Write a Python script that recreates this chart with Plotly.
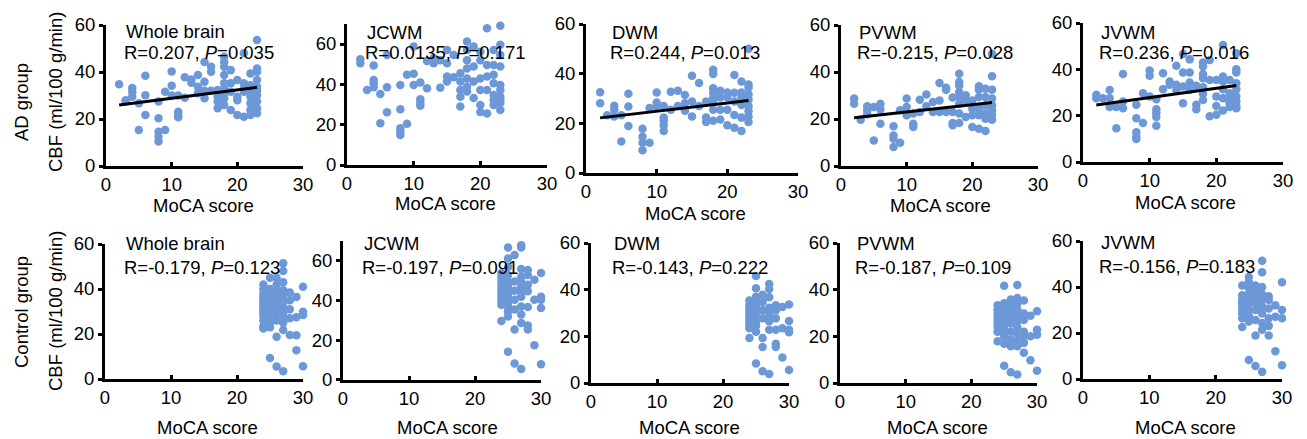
import plotly.graph_objects as go

# ---------------- DATA (MoCA score -> CBF values, ml/100 g/min) ----------------
REGIONS = ["Whole brain", "JCWM", "DWM", "PVWM", "JVWM"]

AD_WHOLE_BRAIN = {
    2: [34.8], 3: [28.0, 27.4], 4: [33.2, 31.4, 29.5], 5: [26.7, 15.3], 6: [38.4, 30.1, 21.7],
    8: [27.4, 20.3, 14.6, 12.5, 10.4], 9: [31.6, 15.3], 10: [40.2, 34.2, 30.0],
    11: [30.0, 23.1, 21.7, 20.7], 12: [37.8, 29.0], 13: [36.8, 35.4], 14: [38.7, 33.7, 31.0],
    15: [44.3, 35.9, 32.0, 28.8], 16: [42.2, 40.1, 32.0], 17: [32.3, 29.5, 27.4, 24.6],
    18: [46.5, 44.3, 42.2, 38.7, 35.2, 33.0, 30.9, 28.8, 26.0], 19: [40.8, 35.2, 31.6, 23.8],
    20: [36.6, 29.5, 28.0, 21.7], 21: [48.0, 35.2, 33.0, 31.6, 21.0],
    22: [39.4, 34.4, 32.0, 29.5, 26.7, 23.8, 21.7],
    23: [53.6, 41.5, 40.1, 36.6, 33.7, 32.0, 30.1, 27.4, 24.6, 22.4],
}
AD_JCWM = {
    2: [52.4, 50.5], 3: [37.2], 4: [49.3, 42.2, 40.5, 38.5], 5: [35.2, 20.7], 6: [54.6, 38.5, 26.2],
    8: [39.7, 27.6, 18.2, 16.5, 14.9], 9: [44.7, 20.4], 10: [58.8, 45.2, 39.7],
    11: [40.9, 32.6, 30.9, 29.4], 12: [51.6, 38.1], 13: [53.0, 51.5, 50.5], 14: [52.0, 38.3],
    15: [57.0, 50.5, 43.9, 41.4], 16: [54.6, 43.5], 17: [45.5, 41.4, 37.2, 33.9, 29.0],
    18: [61.2, 57.0, 52.0, 47.9, 42.9, 38.8, 36.4], 19: [58.8, 48.8, 41.4, 33.2],
    20: [56.2, 52.0, 42.9, 37.2, 29.7, 26.3], 21: [67.8, 49.6, 43.9, 37.2, 25.5],
    22: [57.0, 49.6, 44.7, 40.5, 34.7, 32.3, 29.7],
    23: [69.0, 59.6, 54.6, 48.8, 39.7, 37.2, 33.9, 32.3, 30.7, 27.3],
}
AD_DWM = {
    2: [32.5, 28.1], 3: [23.3], 4: [27.1, 25.5, 22.8], 5: [23.3, 12.7], 6: [31.9, 26.8, 18.9],
    8: [17.8, 14.6, 12.2, 9.2], 9: [26.2, 12.2], 10: [32.4, 28.4, 26.8],
    11: [27.0, 22.3, 21.0, 19.2, 16.9], 12: [32.7, 25.5], 13: [33.1, 27.0], 14: [31.4, 28.1, 25.1],
    15: [39.2, 28.8, 22.8], 16: [36.2, 27.0], 17: [28.8, 22.3, 20.5],
    18: [41.6, 39.9, 34.1, 32.4, 30.4, 28.4, 25.5, 21.0], 19: [33.1, 30.4, 25.5, 21.5],
    20: [32.4, 30.5, 25.5, 19.2], 21: [39.5, 32.3, 28.8, 23.4, 18.2],
    22: [36.8, 32.4, 30.4, 27.4, 22.3, 16.9],
    23: [50.0, 35.6, 34.3, 31.6, 29.6, 26.9, 24.9, 22.8, 20.5],
}
AD_PVWM = {
    2: [28.7, 26.5], 3: [19.7], 4: [25.4, 23.7, 22.0], 5: [25.1, 10.9], 6: [26.5, 24.0, 18.0],
    8: [16.9, 13.0, 11.6, 8.1], 9: [23.7, 9.9], 10: [28.7, 25.1, 21.6],
    11: [22.3, 18.0, 16.6], 12: [28.2, 23.0], 13: [30.4, 25.4], 14: [27.2, 23.0],
    15: [35.3, 27.9, 23.0], 16: [33.3, 32.5, 23.0], 17: [29.1, 23.0, 18.3, 17.3],
    18: [39.3, 35.7, 34.3, 31.5, 29.4, 26.5, 22.3, 18.3], 19: [30.1, 27.9, 20.9],
    20: [27.9, 24.4, 21.6, 16.6], 21: [33.9, 32.5, 29.4, 24.4, 21.6, 15.9],
    22: [32.9, 29.4, 25.8, 22.3, 20.1, 14.9],
    23: [47.8, 38.2, 32.5, 28.7, 25.8, 23.7, 21.6, 19.7],
}
AD_JVWM = {
    2: [29.0, 27.5], 3: [27.5], 4: [31.1, 27.5, 23.7], 5: [23.7, 14.6], 6: [38.0, 26.1, 23.2],
    8: [24.7, 18.9, 12.8, 11.0, 9.9], 9: [29.7, 16.8], 10: [39.5, 37.2, 28.3],
    11: [27.1, 22.8, 21.1, 19.4, 15.6], 12: [38.3, 31.4], 13: [34.7, 33.3], 14: [41.5, 33.3, 31.1],
    15: [46.6, 38.6, 32.6, 25.4], 16: [44.3, 38.6, 34.3, 31.1], 17: [32.9, 24.7, 22.8],
    18: [42.9, 41.2, 38.0, 36.2, 32.3, 29.4, 26.8], 19: [44.0, 35.4, 19.7],
    20: [35.4, 28.3, 24.2, 20.4], 21: [50.5, 36.9, 34.7, 31.4, 27.5, 22.2],
    22: [35.4, 29.7, 26.8, 25.4, 23.7],
    23: [46.9, 40.0, 38.6, 34.0, 31.4, 28.3, 26.1, 24.2, 23.2],
}

CTRL_WHOLE_BRAIN = {
    24: [42.0, 40.0, 38.0, 36.5, 35.0, 34.0, 33.0, 32.0, 31.0, 30.0, 29.0, 28.0, 26.0, 23.5, 22.5],
    25: [45.0, 40.0, 37.0, 35.0, 33.0, 31.0, 28.0, 25.0, 23.0, 9.3],
    26: [45.0, 42.0, 39.5, 37.5, 35.5, 33.5, 31.5, 29.0, 26.0, 18.8, 5.6],
    27: [51.5, 48.0, 43.0, 39.5, 37.0, 34.5, 32.0, 29.5, 27.0, 25.0, 21.8, 3.4],
    28: [38.5, 35.0, 31.0, 27.0, 19.6],
    29: [36.5, 27.5, 19.4, 12.8],
    30: [41.0, 29.9, 28.4, 5.7],
}
CTRL_JCWM = {
    24: [54.0, 52.0, 50.0, 48.0, 46.0, 44.0, 42.0, 40.0, 38.0, 29.7],
    25: [66.8, 61.3, 57.0, 53.0, 49.7, 47.0, 45.0, 43.0, 41.0, 39.0, 37.0, 34.5, 32.0, 14.3],
    26: [63.0, 49.7, 45.0, 40.5, 35.5, 25.5, 8.3],
    27: [68.0, 66.8, 56.0, 52.0, 49.5, 47.0, 44.5, 42.0, 37.0, 33.0, 28.8, 5.5],
    28: [55.5, 53.0, 48.0, 44.7, 36.8, 27.5, 25.5],
    29: [50.5, 40.5, 17.5],
    30: [54.0, 42.0, 40.5, 36.3, 8.0],
}
CTRL_DWM = {
    24: [35.4, 33.5, 32.0, 30.5, 29.0, 27.5, 26.0, 25.0, 23.5, 19.3],
    25: [45.9, 40.6, 37.0, 35.0, 33.0, 30.5, 28.5, 26.5, 24.5, 22.0, 8.4],
    26: [37.8, 34.7, 31.2, 27.7, 19.3, 15.4, 5.0],
    27: [42.4, 40.3, 36.8, 32.2, 30.5, 28.8, 26.5, 22.8, 3.9],
    28: [33.3, 31.2, 27.7, 22.8, 16.8, 15.4],
    29: [32.6, 23.5, 10.9],
    30: [33.6, 26.6, 22.8, 21.8, 5.6],
}
CTRL_PVWM = {
    24: [33.3, 31.5, 30.0, 28.5, 27.0, 25.5, 24.0, 22.0, 17.9],
    25: [41.7, 34.2, 32.5, 30.5, 28.5, 26.5, 24.5, 22.5, 20.0, 16.8, 7.4],
    26: [35.8, 33.3, 30.5, 28.0, 25.5, 22.0, 18.6, 15.8, 4.6],
    27: [42.0, 36.4, 34.0, 31.5, 29.0, 26.5, 24.0, 21.0, 17.9, 15.8, 3.6],
    28: [35.4, 29.8, 27.0, 22.0, 20.0, 17.2, 13.0],
    29: [28.8, 20.0, 9.8],
    30: [30.8, 22.8, 20.7, 5.3],
}
CTRL_JVWM = {
    24: [40.7, 36.4, 34.5, 33.0, 31.5, 30.0, 28.5, 26.4, 22.6],
    25: [44.3, 42.2, 39.5, 37.0, 35.0, 32.5, 30.0, 27.5, 25.0, 8.3],
    26: [40.7, 38.6, 35.5, 33.0, 30.0, 25.7, 18.9, 5.7],
    27: [51.4, 46.4, 40.0, 37.0, 34.5, 31.5, 28.5, 24.3, 21.4, 3.1],
    28: [36.0, 34.3, 30.7, 26.4, 23.1, 18.9],
    29: [32.1, 27.1, 12.1],
    30: [42.1, 30.0, 26.4, 6.0],
}

AD_STATS = ["R=0.207, <i>P</i>=0.035", "R=0.0135, <i>P</i>=0.171", "R=0.244, <i>P</i>=0.013",
            "R=-0.215, <i>P</i>=0.028", "R=0.236, <i>P</i>=0.016"]
CTRL_STATS = ["R=-0.179, <i>P</i>=0.123", "R=-0.197, <i>P</i>=0.091", "R=-0.143, <i>P</i>=0.222",
              "R=-0.187, <i>P</i>=0.109", "R=-0.156, <i>P</i>=0.183"]

# regression lines (AD group only); None = not drawn
FIT_X = [2, 23]
AD_FIT_Y = [[26.0, 33.5], None, [22.2, 29.2], [20.5, 27.0], [24.6, 33.0]]

X_TICKS = [0, 10, 20, 30]
Y_MAX_AD = [60, 70, 60, 60, 60]
Y_MAX_CTRL = [60, 70, 60, 60, 60]
X_TITLE = "MoCA score"
Y_TITLE = "CBF (ml/100 g/min)"
ROW_TITLES = ["AD group", "Control group"]

# ---------------- LAYOUT (pixel geometry) ----------------
W, H = 1307, 439
FONT = "Liberation Sans, Arial, sans-serif"
FS = 18.5
DOT = "#6c98d8"

# (x0px, x30px, y0px, y_px_at_60)
GEOM_AD = [(106, 303, 166, 25), (347, 547, 165, 44), (586, 798, 173, 24),
           (841, 1038, 166, 25), (1083, 1283, 162, 23)]
GEOM_CTRL = [(105, 303, 379, 244), (343, 541, 380, 261), (591, 789, 383, 243),
             (840, 1037, 383, 243), (1083, 1282, 379, 241)]
LABEL_AD = [(124, 31, 53), (365, 32, 53), (610, 32, 53), (857, 32, 53), (1099, 32, 52)]
LABEL_CTRL = [(124, 243, 267), (362, 243, 267), (612, 243, 267), (855, 243, 267), (1099, 242, 266)]
XT_AD = [(204, 205), (445, 203), (695, 213), (940, 205), (1185, 202)]
XT_CTRL = [(207, 427), (447, 427), (689, 427), (937, 427), (1185, 427)]


def px(x):
    return x / W


def py(y):
    return 1 - y / H


def expand(d):
    xs, ys = [], []
    for k, vals in d.items():
        for v in vals:
            xs.append(k)
            ys.append(v)
    return xs, ys


fig = go.Figure()
layout = dict(width=W, height=H, margin=dict(l=0, r=0, t=0, b=0, autoexpand=False),
              paper_bgcolor="white", plot_bgcolor="white", showlegend=False,
              font=dict(family=FONT, size=FS, color="black"))
annotations = []

panels = []
ad_data = [AD_WHOLE_BRAIN, AD_JCWM, AD_DWM, AD_PVWM, AD_JVWM]
ctrl_data = [CTRL_WHOLE_BRAIN, CTRL_JCWM, CTRL_DWM, CTRL_PVWM, CTRL_JVWM]
for i in range(5):
    panels.append(dict(data=ad_data[i], stats=AD_STATS[i], fit=AD_FIT_Y[i], ymax=Y_MAX_AD[i],
                       geom=GEOM_AD[i], lab=LABEL_AD[i], xt=XT_AD[i], name=REGIONS[i]))
for i in range(5):
    panels.append(dict(data=ctrl_data[i], stats=CTRL_STATS[i], fit=None, ymax=Y_MAX_CTRL[i],
                       geom=GEOM_CTRL[i], lab=LABEL_CTRL[i], xt=XT_CTRL[i], name=REGIONS[i]))

for n, p in enumerate(panels, start=1):
    xa = "x" if n == 1 else f"x{n}"
    ya = "y" if n == 1 else f"y{n}"
    x0, x30, y0, y60 = p["geom"]
    ytop = y0 - (y0 - y60) * p["ymax"] / 60.0
    xs, ys = expand(p["data"])
    fig.add_trace(go.Scatter(x=xs, y=ys, mode="markers", xaxis=xa, yaxis=ya,
                             marker=dict(color=DOT, size=8.5, line=dict(width=0)),
                             cliponaxis=False))
    if p["fit"] is not None:
        fig.add_trace(go.Scatter(x=FIT_X, y=p["fit"], mode="lines", xaxis=xa, yaxis=ya,
                                 line=dict(color="black", width=3), cliponaxis=False))
    axcommon = dict(showgrid=False, zeroline=False, showline=True, linecolor="black", linewidth=3,
                    tickfont=dict(family=FONT, size=FS, color="black"), tickwidth=3,
                    tickcolor="black", fixedrange=True)
    layout["xaxis" if n == 1 else f"xaxis{n}"] = dict(
        domain=[px(x0), px(x30)], range=[0, 30], anchor=ya, tickvals=X_TICKS,
        ticks="inside", ticklen=4, **axcommon)
    layout["yaxis" if n == 1 else f"yaxis{n}"] = dict(
        domain=[py(y0), py(ytop)], range=[0, p["ymax"]], anchor=xa,
        tickvals=list(range(0, p["ymax"] + 1, 20)), ticks="outside", ticklen=4, **axcommon)
    lx, l1, l2 = p["lab"]
    annotations.append(dict(x=px(lx), y=py(l1), xref="paper", yref="paper", text=p["name"],
                            showarrow=False, xanchor="left", yanchor="middle",
                            font=dict(family=FONT, size=FS, color="black")))
    annotations.append(dict(x=px(lx - 2), y=py(l2), xref="paper", yref="paper", text=p["stats"],
                            showarrow=False, xanchor="left", yanchor="middle",
                            font=dict(family=FONT, size=FS, color="black")))
    tx, ty = p["xt"]
    annotations.append(dict(x=px(tx), y=py(ty), xref="paper", yref="paper", text=X_TITLE,
                            showarrow=False, xanchor="center", yanchor="middle",
                            font=dict(family=FONT, size=FS, color="black")))

# row titles
for (gx, gy), (cx, cy), txt in [((21, 102), (55, 92), ROW_TITLES[0]),
                                ((21, 312), (55, 311), ROW_TITLES[1])]:
    annotations.append(dict(x=px(gx), y=py(gy), xref="paper", yref="paper", text=txt,
                            showarrow=False, textangle=-90, xanchor="center", yanchor="middle",
                            font=dict(family=FONT, size=FS, color="black")))
    annotations.append(dict(x=px(cx), y=py(cy), xref="paper", yref="paper", text=Y_TITLE,
                            showarrow=False, textangle=-90, xanchor="center", yanchor="middle",
                            font=dict(family=FONT, size=FS, color="black")))

layout["annotations"] = annotations
fig.update_layout(**layout)
fig.write_html("out.html", config={"displayModeBar": False},
               post_script="document.body.style.margin='0';document.body.style.overflow='hidden';")
